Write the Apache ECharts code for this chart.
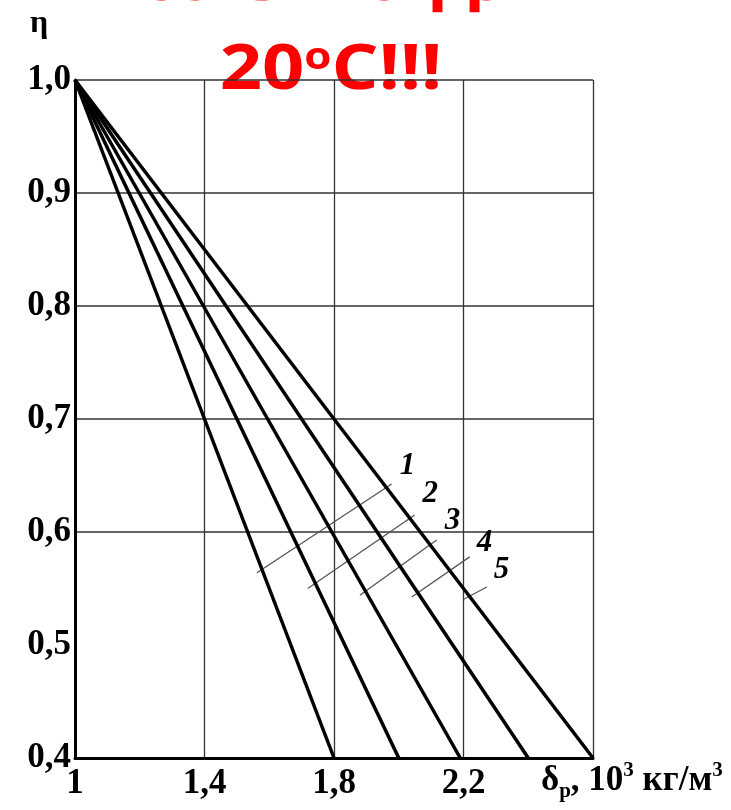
<!DOCTYPE html>
<html>
<head>
<meta charset="utf-8">
<script src="https://cdn.jsdelivr.net/npm/echarts@6/dist/echarts.min.js"></script>
<style>html,body{margin:0;padding:0;background:#fff;}#c{width:731px;height:810px;}</style>
</head>
<body>
<div id="c"></div>
<script>
// ---- data ----
const curveNames = ['1', '2', '3', '4', '5'];
const curveStartDensity = 1.0;   // δp, 10^3 kg/m^3
const curveStartEta = 1.0;
const curveEndDensity = [1.8, 2.0, 2.19, 2.4, 2.6];
const curveEndEta = 0.4;
// leader lines for curve labels: [start, end] in data units
const leaderStart = [[1.562, 0.564], [1.719, 0.550], [1.880, 0.544], [2.040, 0.5425], [2.198, 0.540]];
const leaderEnd = [[1.978, 0.6425], [2.049, 0.615], [2.117, 0.593], [2.219, 0.578], [2.272, 0.5513]];
const xTicks = [1, 1.4, 1.8, 2.2, 2.6];
const yTicks = [0.4, 0.5, 0.6, 0.7, 0.8, 0.9, 1.0];
const yGridShown = [false, false, true, true, true, true, true];

const chart = echarts.init(document.getElementById('c'), null, {renderer: 'canvas'});
const serif = '"Liberation Serif", "Times New Roman", serif';

const series = [];
curveNames.forEach((n, i) => {
  series.push({
    type: 'line', name: 'curve' + n, symbol: 'none', silent: true,
    lineStyle: {color: '#000', width: 3.5},
    data: [[curveStartDensity, curveStartEta], [curveEndDensity[i], curveEndEta]],
    z: 5
  });
});
const labelOffsets = [[6, -18], [6, -21], [6, -19], [5, -14], [5, -17]];
curveNames.forEach((n, i) => {
  series.push({
    type: 'line', name: 'leader' + n, symbol: 'none', silent: true,
    lineStyle: {color: '#555', width: 1.3},
    data: [leaderStart[i], leaderEnd[i]],
    endLabel: {
      show: true, formatter: n, color: '#000',
      fontFamily: serif, fontStyle: 'italic', fontWeight: 'bold', fontSize: 31,
      offset: labelOffsets[i], distance: 2
    },
    z: 4
  });
});

const fmt = v => (Math.round(v * 10) / 10).toFixed(1).replace('.', ',');

chart.setOption({
  animation: false,
  backgroundColor: '#fff',
  grid: {left: 75, right: 138, top: 80, bottom: 52, containLabel: false},
  xAxis: {
    type: 'value', min: xTicks[0], max: xTicks[xTicks.length - 1], interval: 0.4,
    axisLine: {show: true, onZero: false, lineStyle: {color: '#000', width: 3}},
    axisTick: {show: false},
    splitLine: {show: true, lineStyle: {color: '#333', width: 1.3}},
    axisLabel: {
      margin: 8, color: '#000', fontFamily: serif, fontWeight: 'bold', fontSize: 35,
      formatter: v => (Math.abs(v - 2.6) < 1e-6 ? '' : (v === 1 ? '1' : fmt(v)))
    }
  },
  yAxis: {
    type: 'value', min: yTicks[0], max: yTicks[yTicks.length - 1], interval: 0.1,
    axisLine: {show: true, onZero: false, lineStyle: {color: '#000', width: 3}},
    axisTick: {show: false},
    splitLine: {show: true, lineStyle: {color: yGridShown.map(s => s ? '#333' : 'rgba(0,0,0,0)'), width: 1.6}},
    axisLabel: {
      margin: 4, color: '#000', fontFamily: serif, fontWeight: 'bold', fontSize: 35,
      formatter: v => fmt(v)
    }
  },
  graphic: [
    {type: 'text', left: 30, top: 8, style: {text: 'η', font: 'bold 32px ' + serif, fill: '#000'}},
    {type: 'text', left: 541, top: 760, style: {
      text: '{a|δ}{sub|р}{a|, 10}{sup|3}{a| кг/м}{sup|3}',
      rich: {
        a: {fontFamily: serif, fontWeight: 'bold', fontSize: 35, fill: '#000', lineHeight: 42, verticalAlign: 'middle'},
        sub: {fontFamily: serif, fontWeight: 'bold', fontSize: 21, fill: '#000', lineHeight: 42, verticalAlign: 'bottom'},
        sup: {fontFamily: serif, fontWeight: 'bold', fontSize: 21, fill: '#000', lineHeight: 42, verticalAlign: 'top'}
      }
    }},
    {type: 'text', x: 331, y: -18, scaleY: 0.85, style: {
      text: 'Палетка для', font: 'bold 74px "Open Sans", sans-serif', fill: '#ff0000',
      align: 'center', verticalAlign: 'middle'
    }},
    {type: 'text', x: 331, y: 71, scaleY: 0.85, style: {
      text: '{a|20}{s|o}{a|C!!!}', align: 'center', verticalAlign: 'middle',
      rich: {
        a: {fontFamily: '"Open Sans", sans-serif', fontWeight: 'bold', fontSize: 74, fill: '#ff0000', lineHeight: 74},
        s: {fontFamily: '"Open Sans", sans-serif', fontWeight: 'bold', fontSize: 44, fill: '#ff0000', lineHeight: 44, verticalAlign: 'top'}
      }
    }}
  ],
  series: series
});
</script>
</body>
</html>
